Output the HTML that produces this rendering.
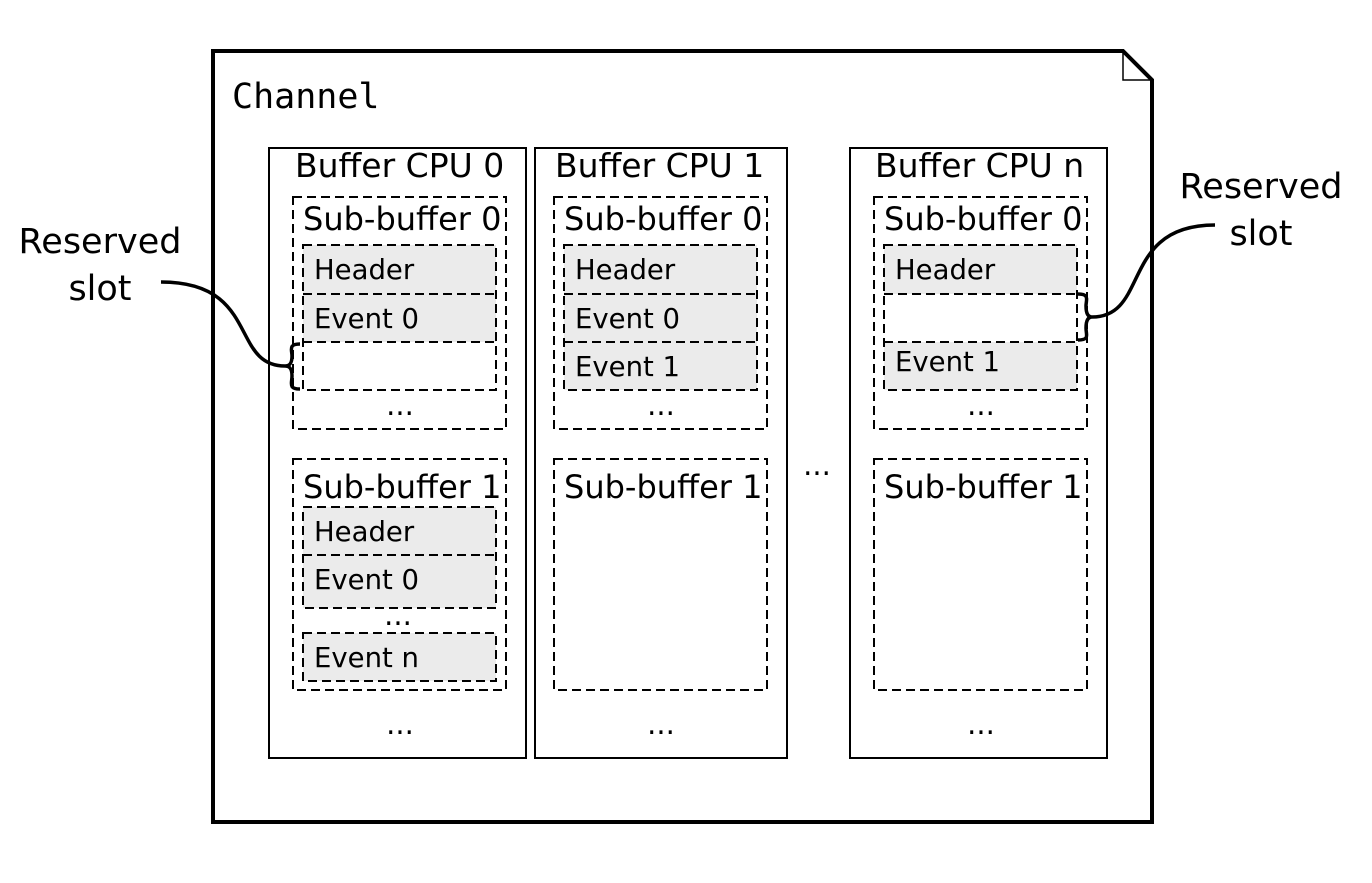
<!DOCTYPE html>
<html><head><meta charset="utf-8"><style>html,body{margin:0;padding:0;background:#fff}svg{display:block}</style></head>
<body>
<svg width="1372" height="883" viewBox="0 0 1372 883" xmlns="http://www.w3.org/2000/svg" font-family="DejaVu Sans, Liberation Sans, sans-serif" fill="#000">
<rect width="1372" height="883" fill="#fff"/>
<!-- channel -->
<path d="M213,51 H1123 L1152,80 V822 H213 Z" fill="#fff" stroke="#000" stroke-width="4"/>
<path d="M1123,51 V80 H1152" fill="none" stroke="#000" stroke-width="1.5"/>
<text x="232" y="108" font-family="DejaVu Sans Mono, Liberation Mono, monospace" font-size="35">Channel</text>

<!-- buffers -->
<g fill="#fff" stroke="#000" stroke-width="2">
<rect x="269" y="148" width="257" height="610"/>
<rect x="535" y="148" width="252" height="610"/>
<rect x="850" y="148" width="257" height="610"/>
</g>
<g font-size="33">
<text x="295" y="177">Buffer CPU 0</text>
<text x="555" y="177">Buffer CPU 1</text>
<text x="875" y="177">Buffer CPU n</text>
</g>

<!-- grey fills -->
<g fill="#ebebeb">
<rect x="303" y="245" width="193" height="97"/>
<rect x="303" y="507" width="193" height="101"/>
<rect x="303" y="633" width="193" height="48"/>
<rect x="564" y="245" width="193" height="145"/>
<rect x="884" y="245" width="193" height="49"/>
<rect x="884" y="342" width="193" height="48"/>
</g>

<g fill="none" stroke="#000" stroke-width="2" stroke-dasharray="9,5">
<rect x="293" y="197" width="213" height="232"/>
<rect x="303" y="245" width="193" height="145"/>
<line x1="303" y1="294" x2="496" y2="294"/>
<line x1="303" y1="342" x2="496" y2="342"/>
<rect x="293" y="459" width="213" height="231"/>
<rect x="303" y="507" width="193" height="101"/>
<line x1="303" y1="555" x2="496" y2="555"/>
<rect x="303" y="633" width="193" height="48"/>
<rect x="554" y="197" width="213" height="232"/>
<rect x="564" y="245" width="193" height="145"/>
<line x1="564" y1="294" x2="757" y2="294"/>
<line x1="564" y1="342" x2="757" y2="342"/>
<rect x="554" y="459" width="213" height="231"/>
<rect x="874" y="197" width="213" height="232"/>
<rect x="884" y="245" width="193" height="145"/>
<line x1="884" y1="294" x2="1077" y2="294"/>
<line x1="884" y1="342" x2="1077" y2="342"/>
<rect x="874" y="459" width="213" height="231"/>
</g>

<g font-size="32">
<text x="303" y="230">Sub-buffer 0</text>
<text x="564" y="230">Sub-buffer 0</text>
<text x="884" y="230">Sub-buffer 0</text>
<text x="303" y="498">Sub-buffer 1</text>
<text x="564" y="498">Sub-buffer 1</text>
<text x="884" y="498">Sub-buffer 1</text>
</g>
<g font-size="27.5">
<text x="314" y="279">Header</text>
<text x="314" y="328">Event 0</text>
<text x="314" y="541">Header</text>
<text x="314" y="589">Event 0</text>
<text x="314" y="667">Event n</text>
<text x="575" y="279">Header</text>
<text x="575" y="328">Event 0</text>
<text x="575" y="376">Event 1</text>
<text x="895" y="279">Header</text>
<text x="895" y="371">Event 1</text>
</g>
<g font-size="29" text-anchor="middle">
<text x="400" y="415">...</text>
<text x="661" y="415">...</text>
<text x="981" y="415">...</text>
<text x="398" y="625">...</text>
<text x="400" y="734">...</text>
<text x="661" y="734">...</text>
<text x="981" y="734">...</text>
<text x="817" y="475">...</text>
</g>

<g font-size="35" text-anchor="middle">
<text x="100" y="253">Reserved</text>
<text x="100" y="300">slot</text>
<text x="1261" y="198">Reserved</text>
<text x="1261" y="245">slot</text>
</g>
<g fill="none" stroke="#000" stroke-width="3.5">
<path d="M161,282 C260,282 230,366 285,366"/>
<path d="M300,344 C288,344 292,350 292,356 C292,363 290,366 285,366 C290,366 292,369 292,376 C292,383 288,389 300,389"/>
<path d="M1215,225 C1120,225 1150,317 1092,317"/>
<path d="M1078,294 C1090,294 1086,300 1086,306 C1086,313 1088,317 1092,317 C1088,317 1086,321 1086,328 C1086,335 1090,340 1078,340"/>
</g>
</svg>
</body></html>
